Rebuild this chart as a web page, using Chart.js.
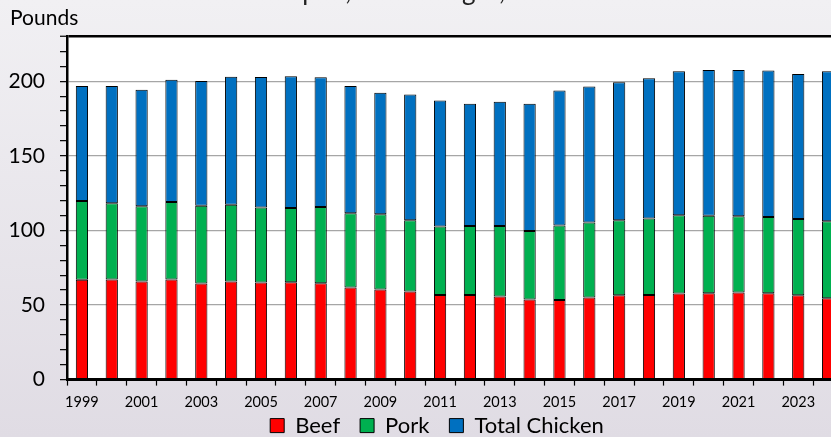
<!DOCTYPE html>
<html>
<head>
<meta charset="utf-8">
<script src="https://cdn.jsdelivr.net/npm/chart.js@4.4.1/dist/chart.umd.min.js"></script>
<style>
  html, body { margin: 0; padding: 0; }
  body { width: 831px; height: 437px; overflow: hidden; background: linear-gradient(#f1f0f3, #e0dce4); }
  #wrap { position: relative; width: 831px; height: 437px; overflow: hidden; }
  #chart { position: absolute; left: 0; top: -12px; }
</style>
</head>
<body>
<div id="wrap"><canvas id="chart" width="867" height="483"></canvas></div>
<script>
const years = [1999, 2000, 2001, 2002, 2003, 2004, 2005, 2006, 2007, 2008, 2009, 2010, 2011,
  2012, 2013, 2014, 2015, 2016, 2017, 2018, 2019, 2020, 2021, 2022, 2023, 2024];

// pounds per person, each segment of the stack
const beef = [66.9, 67.1, 65.8, 67.1, 64.4, 65.8, 65.1, 65.2, 64.6, 61.7, 60.4, 59.0, 56.8,
  56.8, 55.7, 53.7, 53.3, 55.0, 56.6, 56.8, 57.7, 57.9, 58.4, 57.9, 56.6, 54.5];
const pork = [52.8, 51.2, 50.5, 51.9, 52.1, 51.4, 50.3, 49.9, 51.2, 49.9, 50.5, 47.9, 45.8,
  46.2, 47.3, 46.0, 50.1, 50.3, 50.3, 51.2, 52.5, 51.9, 51.2, 51.2, 51.1, 51.7];
const chicken = [77.1, 78.5, 78.0, 82.1, 83.7, 85.9, 87.5, 88.3, 86.9, 85.2, 81.4, 84.3, 84.6,
  82.0, 83.3, 85.3, 90.5, 91.3, 92.4, 94.0, 96.5, 97.8, 98.0, 98.1, 97.2, 100.5];

const tickYears = [1999, 2001, 2003, 2005, 2007, 2009, 2011, 2013, 2015, 2017, 2019, 2021, 2023];
const yTickLabels = [0, 50, 100, 150, 200];

const FONT = 'Lato, "Open Sans", sans-serif';

// white plot area, "Pounds" unit label, legend pulled up under the year labels
const plotExtras = {
  id: 'plotExtras',
  afterLayout(chart) {
    const lg = chart.legend;
    const h = lg.height;
    lg.top = chart.chartArea.bottom + 15;
    lg.bottom = lg.top + h;
  },
  beforeDraw(chart) {
    const { ctx, chartArea } = chart;
    ctx.save();
    ctx.fillStyle = '#ffffff';
    ctx.fillRect(chartArea.left, chartArea.top, chartArea.width, chartArea.height);
    ctx.restore();
  },
  afterDraw(chart) {
    const ctx = chart.ctx;
    ctx.save();
    ctx.fillStyle = '#000';
    ctx.font = '21px ' + FONT;
    ctx.textBaseline = 'middle';
    ctx.fillText('Pounds', 10, 30);
    ctx.restore();
  }
};

const barStyle = { borderColor: '#000', borderWidth: 1, borderSkipped: false,
  barPercentage: 0.41, categoryPercentage: 1 };

new Chart(document.getElementById('chart'), {
  type: 'bar',
  data: {
    labels: years,
    datasets: [
      { label: 'Beef', data: beef, backgroundColor: '#ff0000', ...barStyle },
      { label: 'Pork', data: pork, backgroundColor: '#00b050', ...barStyle },
      { label: 'Total Chicken', data: chicken, backgroundColor: '#0070c0', ...barStyle },
    ],
  },
  options: {
    responsive: false,
    animation: false,
    devicePixelRatio: 1,
    layout: { padding: { left: 7, right: 0, top: 0, bottom: 0 } },
    scales: {
      x: {
        stacked: true,
        grid: { drawOnChartArea: false, offset: true, tickLength: 6, tickColor: '#000', tickWidth: 1.2 },
        border: { color: '#000', width: 3 },
        ticks: {
          autoSkip: false, maxRotation: 0, padding: 8, color: '#000',
          font: { family: FONT, size: 14.5 },
          callback: (v, i) => tickYears.includes(years[i]) ? String(years[i]) : '',
        },
      },
      y: {
        stacked: true,
        min: 0,
        max: 230,
        afterFit: s => { s.width = 60; },
        ticks: {
          stepSize: 10, autoSkip: false, padding: 15, color: '#000',
          font: { family: FONT, size: 21 },
          callback: v => yTickLabels.includes(v) ? String(v) : '',
        },
        grid: {
          color: c => c.tick.value === 230 ? '#000'
            : (c.tick.value > 0 && c.tick.value % 50 === 0 ? '#a6a6a6' : 'rgba(0,0,0,0)'),
          lineWidth: c => c.tick.value === 230 ? 2.5 : 1.3,
          tickLength: 7, tickColor: '#000', tickWidth: 1.2,
        },
        border: { color: '#000', width: 2.5 },
      },
      // empty right-hand strip so the legend and title centre like the original slide
      yRight: {
        position: 'right',
        grid: { display: false },
        border: { display: false },
        ticks: { display: false },
        afterFit: s => { s.width = 24; },
      },
    },
    plugins: {
      title: {
        display: true,
        text: 'Per capita, retail weight, 1999-2024',
        color: '#222',
        font: { family: FONT, size: 26, weight: 'normal', lineHeight: 0.31 },
        padding: { top: 0, bottom: 40.5 },
      },
      legend: {
        position: 'bottom',
        labels: { boxWidth: 14, boxHeight: 14, padding: 20, color: '#000',
          font: { family: FONT, size: 22 } },
      },
      tooltip: { enabled: false },
    },
  },
  plugins: [plotExtras],
});
</script>
</body>
</html>
